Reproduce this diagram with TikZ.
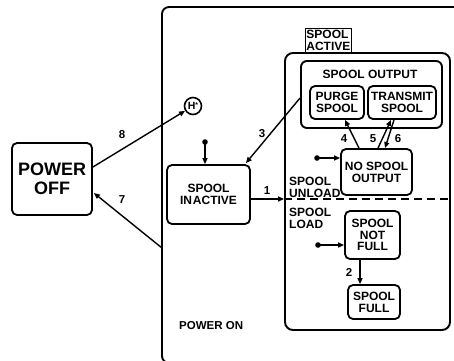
\documentclass[tikz,border=0pt]{standalone}
\usepackage{fontspec}
\setmainfont{Liberation Sans}
\usetikzlibrary{arrows.meta,calc}
\begin{document}
\begin{tikzpicture}[x=1pt,y=-1pt,
  every node/.style={font=\bfseries\fontsize{12}{11.8}\selectfont, inner sep=0pt},
  state/.style={draw, line width=1.8pt, rounded corners=5pt, align=center},
  arr/.style={line width=1.4pt, -{Triangle[length=6pt,width=5pt]}},
  lbl/.style={font=\bfseries\fontsize{11.5}{11.5}\selectfont}]
\useasboundingbox (0,0) rectangle (454,360);
\begin{scope}
\clip (0,0) rectangle (454,360);
\draw[line width=1.9pt, rounded corners=7pt] (162,7) rectangle (480,363);
\end{scope}
\coordinate (c7) at (162,248);
% states
\node[state, minimum width=80pt, minimum height=72pt, font=\bfseries\fontsize{18}{19}\selectfont] (poweroff) at (52,179) {POWER\\OFF};
\node[draw, circle, line width=1.6pt, minimum size=17pt, font=\bfseries\fontsize{10.5}{10.5}\selectfont] (hstar) at (193,106) {H\raisebox{2.5pt}{\fontsize{7}{7}\selectfont*}};
\node[state, minimum width=83pt, minimum height=59pt] (inactive) at (208.5,194.5) {SPOOL\\IN\kern1pt ACTIVE};
\node[draw, line width=1.9pt, rounded corners=8pt, minimum width=165pt, minimum height=277pt] (active) at (367.5,191.5) {};
\node[draw, line width=0.8pt, minimum width=46pt, minimum height=24pt, align=left, anchor=north west, inner sep=1pt] (activelbl) at (305,28) {SPOOL\\ACTIVE};
\node[draw, line width=1.9pt, rounded corners=6pt, minimum width=141pt, minimum height=67pt] (output) at (371.5,94.5) {};
\node (outputlbl) at (370,74) {SPOOL OUTPUT};
\node[state, minimum width=54pt, minimum height=33pt] (purge) at (337,102.5) {PURGE\\SPOOL};
\node[state, minimum width=68pt, minimum height=33pt] (transmit) at (402,102.5) {TRANSMIT\\SPOOL};
\node[state, minimum width=71pt, minimum height=46pt] (nospool) at (376.5,172) {NO SPOOL\\OUTPUT};
\node[state, minimum width=55pt, minimum height=48pt] (notfull) at (372.5,235) {SPOOL\\NOT\\FULL};
\node[state, minimum width=52pt, minimum height=34pt] (full) at (374,302) {SPOOL\\FULL};
% text labels
\node[align=left, anchor=west] (unload) at (289,187) {SPOOL\\UNLOAD};
\node[align=left, anchor=west] (load) at (289,218) {SPOOL\\LOAD};
\node[anchor=west, lbl] (poweron) at (179,326) {POWER ON};
% dashed divider
\draw[line width=1.9pt, dash pattern=on 8pt off 5pt] ($(active.west)+(0,7.5)$) -- ($(active.east)+(0,7.5)$);
% transitions
\draw[arr] ($(poweroff.east)+(0,-12)$) -- (hstar);
\node[lbl] (l8) at (122,135) {8};
\draw[arr] (c7) -- ($(poweroff.east)+(1,14)$);
\node[lbl] (l7) at (122,200) {7};
\draw[arr] ($(output.west)+(0,3.5)$) -- ($(inactive.north east)+(-5,-1)$);
\node[lbl] (l3) at (262,134) {3};
\draw[arr] ($(inactive.east)+(0,4.5)$) -- ($(active.west)+(0,7.5)$);
\node[lbl] (l1) at (267,191) {1};
\draw[arr] ($(nospool.north)+(-17.5,0)$) -- ($(purge.south)+(8,0)$);
\node[lbl] (l4) at (344,139) {4};
\draw[arr] ($(nospool.north)+(1.5,0)$) -- ($(transmit.south)+(-11,0)$);
\node[lbl] (l5) at (373,139) {5};
\draw[arr] ($(transmit.south)+(-8,0)$) -- ($(nospool.north)+(8.5,0)$);
\node[lbl] (l6) at (398,139) {6};
\draw[arr] ($(notfull.south)+(-12.5,0)$) -- ($(full.north)+(-14,0)$);
\node[lbl] (l2) at (349,272) {2};
% default transitions
\coordinate (d1) at (205,142);
\coordinate (d2) at (317,158);
\coordinate (d3) at (318,245);
\fill (d1) circle (2.8pt); \draw[arr] (d1) -- ($(inactive.north)+(-3.5,0)$);
\fill (d2) circle (2.8pt); \draw[arr] (d2) -- ($(nospool.west)+(0,-14)$);
\fill (d3) circle (2.8pt); \draw[arr] (d3) -- ($(notfull.west)+(0,10)$);
\end{tikzpicture}
\end{document}
